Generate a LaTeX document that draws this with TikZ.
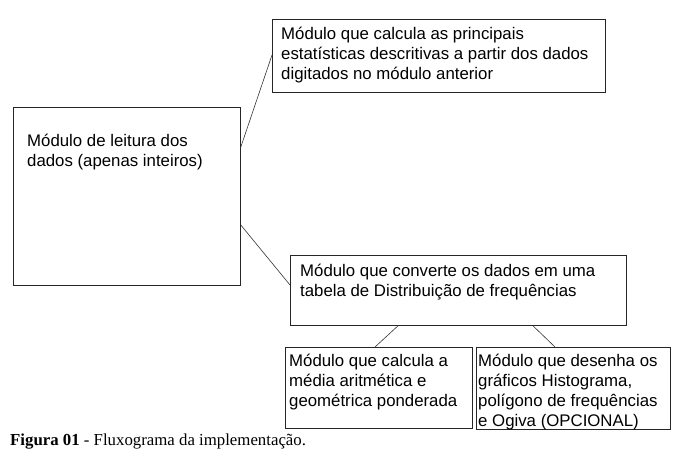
\documentclass[tikz,border=0pt]{standalone}
\usepackage{fontspec}
\usepackage{tikz}
\newfontfamily\modfont{Liberation Sans}
\newfontfamily\legfont{Liberation Serif}
\tikzset{
  modulo/.style={draw=black!85, line width=0.8pt, anchor=north west, inner sep=0pt},
  texto/.style={anchor=north west, align=left, inner sep=0pt, font=\modfont\fontsize{16.8}{20}\selectfont},
  liga/.style={draw=black!80, line width=0.6pt}
}

\begin{document}
\begin{tikzpicture}[x=1pt,y=-1pt]
\useasboundingbox (0,0) rectangle (680,457);
\node[modulo, minimum width=227pt, minimum height=178pt] (leitura) at (13,107) {};
\node[modulo, minimum width=333pt, minimum height=73pt] (estat) at (272,19) {};
\node[modulo, minimum width=336pt, minimum height=70pt] (tabela) at (290,255) {};
\node[modulo, minimum width=187pt, minimum height=81pt] (media) at (285,347) {};
\node[modulo, minimum width=194pt, minimum height=82pt] (graficos) at (476,347) {};

\node[texto] (leituratxt) at ([xshift=14, yshift=-25]leitura.north west)
  {\strut M\'odulo de leitura dos\\dados (apenas inteiros)};
\node[texto] (estattxt) at ([xshift=9, yshift=-6]estat.north west)
  {\strut M\'odulo que calcula as principais\\estat\'isticas descritivas a partir dos dados\\digitados no m\'odulo anterior};
\node[texto] (tabelatxt) at ([xshift=10, yshift=-7]tabela.north west)
  {\strut M\'odulo que converte os dados em uma\\tabela de Distribui\c{c}\~ao de frequ\^encias};
\node[texto] (mediatxt) at ([xshift=4, yshift=-5]media.north west)
  {\strut M\'odulo que calcula a\\m\'edia aritm\'etica e\\geom\'etrica ponderada};
\node[texto] (graficostxt) at ([xshift=2, yshift=-5]graficos.north west)
  {\strut M\'odulo que desenha os\\gr\'aficos Histograma,\\pol\'igono de frequ\^encias\\e Ogiva (OPCIONAL)};

\draw[liga] ([yshift=-40]leitura.north east) -- ([yshift=-36]estat.north west);
\draw[liga] ([yshift=-118]leitura.north east) -- ([yshift=-30]tabela.north west);
\draw[liga] ([xshift=108]tabela.south west) -- ([xshift=90]media.north west);
\draw[liga] ([xshift=243]tabela.south west) -- ([xshift=79]graficos.north west);

\node[anchor=base west, inner sep=0pt, font=\legfont\fontsize{16.8}{20}\selectfont] (legenda) at (10,445)
  {\textbf{Figura 01} - Fluxograma da implementa\c{c}\~ao.};
\end{tikzpicture}
\end{document}
